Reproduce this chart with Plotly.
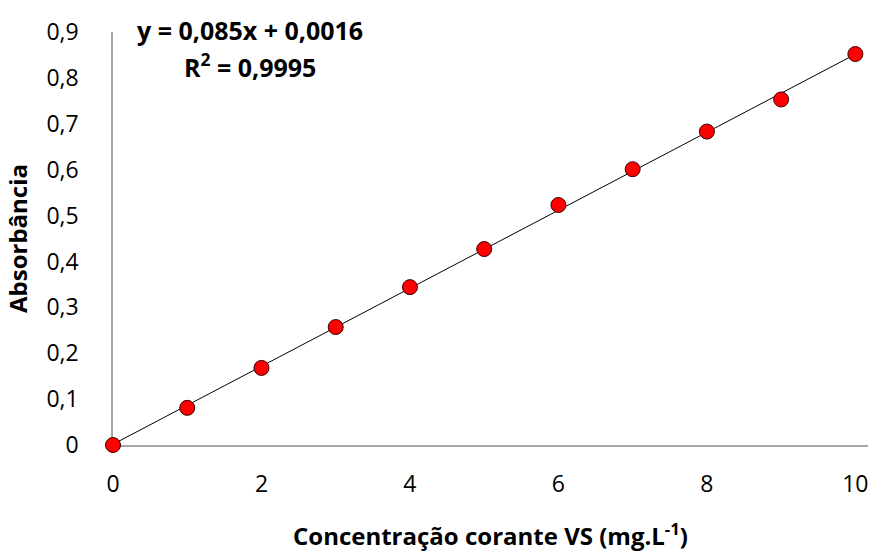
import plotly.graph_objects as go

# Calibration data: dye concentration (mg/L) vs absorbance
concentracao = [0, 1, 2, 3, 4, 5, 6, 7, 8, 9, 10]
absorbancia = [0.0, 0.081, 0.168, 0.257, 0.344, 0.427, 0.523, 0.601, 0.683, 0.753, 0.852]

# Linear fit reported on the chart
slope = 0.085
intercept = 0.0016
fit_x = [0, 10]
fit_y = [slope * v + intercept for v in fit_x]

font_family = "Open Sans, Noto Sans, Liberation Sans, sans-serif"

fig = go.Figure()
fig.add_trace(go.Scatter(
    x=fit_x, y=fit_y, mode="lines",
    line=dict(color="#000000", width=1),
    hoverinfo="skip", showlegend=False, cliponaxis=False,
))
fig.add_trace(go.Scatter(
    x=concentracao, y=absorbancia, mode="markers",
    marker=dict(size=15, color="#ff0000", line=dict(color="#3a0000", width=1)),
    showlegend=False, cliponaxis=False,
))

fig.add_annotation(
    x=0.182, y=1.005, xref="paper", yref="paper", xanchor="center", yanchor="middle",
    text="<b>y = 0,085x + 0,0016</b>", showarrow=False,
    font=dict(family=font_family, size=25, color="#000000"),
)
fig.add_annotation(
    x=0.182, y=0.918, xref="paper", yref="paper", xanchor="center", yanchor="middle",
    text="<b>R<sup>2</sup> = 0,9995</b>", showarrow=False,
    font=dict(family=font_family, size=25, color="#000000"),
)

fig.update_layout(
    width=872, height=554,
    margin=dict(l=113, r=4, t=32, b=109),
    plot_bgcolor="white", paper_bgcolor="white",
    separators=",.",
    font=dict(family=font_family, size=24, color="#000000"),
    xaxis=dict(
        range=[0, 10.17], tickvals=[0, 2, 4, 6, 8, 10],
        showgrid=False, zeroline=False,
        showline=True, linecolor="#a6a6a6", linewidth=1.5,
        layer="below traces",
        ticks="", ticklabelstandoff=18,
        tickfont=dict(size=23),
        title=dict(text="<b>Concentração corante VS (mg.L<sup>-1</sup>)</b>",
                   font=dict(size=24), standoff=30),
    ),
    yaxis=dict(
        range=[0, 0.9], tickvals=[0, 0.1, 0.2, 0.3, 0.4, 0.5, 0.6, 0.7, 0.8, 0.9],
        tickformat=".1~f",
        showgrid=False, zeroline=False,
        showline=True, linecolor="#a6a6a6", linewidth=1.5,
        layer="below traces",
        ticks="", ticklabelstandoff=28,
        tickfont=dict(size=23),
        title=dict(text="<b>Absorbância</b>", font=dict(size=24), standoff=12),
    ),
)

fig.write_html("out.html")
